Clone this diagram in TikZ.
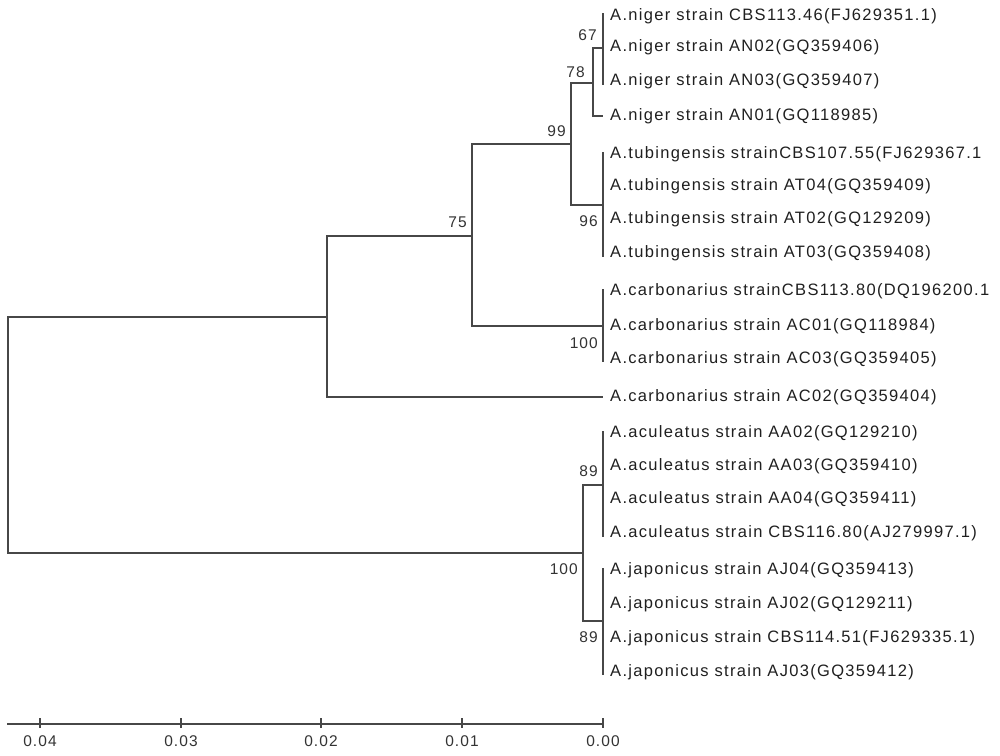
\documentclass[tikz,border=0pt]{standalone}
\usepackage{fontspec}
\setmainfont{Liberation Sans}
\newfontfamily\leaffont[LetterSpace=8]{Liberation Sans}
\newfontfamily\numfont[LetterSpace=7]{Liberation Sans}
\begin{document}
\begin{tikzpicture}[x=1pt,y=-1pt,
  br/.style={draw=black!72,line width=1.4pt},
  leaf/.style={anchor=west,inner sep=0pt,font=\leaffont\fontsize{16.5}{17}\selectfont,text=black!88},
  boot/.style={anchor=east,inner sep=0pt,font=\numfont\fontsize{15.5}{16}\selectfont,text=black!80},
  ticklab/.style={anchor=center,inner sep=0pt,font=\numfont\fontsize{15.5}{16}\selectfont,text=black!80}]
\useasboundingbox (0,0) rectangle (1000,755);
% leaf coordinates
\def\lx{603}
\foreach \i/\y in {1/16,2/47,3/81,4/116,5/154,6/186,7/219,8/253,9/291,10/326,11/359,12/397,13/433,14/466,15/499,16/533,17/570,18/604,19/638,20/672}{
  \coordinate (L\i) at (\lx,\y);
}
% labels
\node[leaf] (t1)  at (610,16)  {A.niger strain CBS113.46(FJ629351.1)};
\node[leaf] (t2)  at (610,47)  {A.niger strain AN02(GQ359406)};
\node[leaf] (t3)  at (610,81)  {A.niger strain AN03(GQ359407)};
\node[leaf] (t4)  at (610,116) {A.niger strain AN01(GQ118985)};
\node[leaf] (t5)  at (610,154) {A.tubingensis strainCBS107.55(FJ629367.1};
\node[leaf] (t6)  at (610,186) {A.tubingensis strain AT04(GQ359409)};
\node[leaf] (t7)  at (610,219) {A.tubingensis strain AT02(GQ129209)};
\node[leaf] (t8)  at (610,253) {A.tubingensis strain AT03(GQ359408)};
\node[leaf] (t9)  at (610,291) {A.carbonarius strainCBS113.80(DQ196200.1};
\node[leaf] (t10) at (610,326) {A.carbonarius strain AC01(GQ118984)};
\node[leaf] (t11) at (610,359) {A.carbonarius strain AC03(GQ359405)};
\node[leaf] (t12) at (610,397) {A.carbonarius strain AC02(GQ359404)};
\node[leaf] (t13) at (610,433) {A.aculeatus strain AA02(GQ129210)};
\node[leaf] (t14) at (610,466) {A.aculeatus strain AA03(GQ359410)};
\node[leaf] (t15) at (610,499) {A.aculeatus strain AA04(GQ359411)};
\node[leaf] (t16) at (610,533) {A.aculeatus strain CBS116.80(AJ279997.1)};
\node[leaf] (t17) at (610,570) {A.japonicus strain AJ04(GQ359413)};
\node[leaf] (t18) at (610,604) {A.japonicus strain AJ02(GQ129211)};
\node[leaf] (t19) at (610,638) {A.japonicus strain CBS114.51(FJ629335.1)};
\node[leaf] (t20) at (610,672) {A.japonicus strain AJ03(GQ359412)};
% internal nodes
\coordinate (n67) at (603,48);
\coordinate (n78) at (593,83);
\coordinate (n96) at (603,205);
\coordinate (n99) at (571,144);
\coordinate (n100c) at (603,326);
\coordinate (n75) at (472,236);
\coordinate (nAC) at (327,317);
\coordinate (n89a) at (603,485);
\coordinate (n89j) at (603,621);
\coordinate (n100) at (583,553);
\coordinate (root) at (8,436);
% branches
\draw[br] (603,13) -- (603,85);
\draw[br] (n67) -| (n78) |- (L4);
\draw[br] (n78) -| (n99) |- (n96);
\draw[br] (603,152) -- (603,257);
\draw[br] (n99) -| (n75) |- (n100c);
\draw[br] (603,289) -- (603,362);
\draw[br] (n75) -| (nAC) |- (L12);
\draw[br] (nAC) -| (root) |- (n100);
\draw[br] (603,431) -- (603,537);
\draw[br] (n89a) -| (n100) |- (n89j);
\draw[br] (603,568) -- (603,675);
% bootstrap values
\node[boot] (b67) at (597,35) {67};
\node[boot] (b78) at (585,72) {78};
\node[boot] (b99) at (566,131) {99};
\node[boot] (b75) at (467,222) {75};
\node[boot] (b96) at (598,221) {96};
\node[boot] (b100c) at (598,343) {100};
\node[boot] (b89a) at (598,471) {89};
\node[boot] (b100) at (578,569) {100};
\node[boot] (b89j) at (598,637) {89};
% scale axis
\coordinate (ax0) at (7,724);
\coordinate (ax1) at (604,724);
\draw[br,line width=1.2pt] (ax0) -- (ax1);
\foreach \xx/\lab/\nm in {40/0.04/s4,181/0.03/s3,321/0.02/s2,462/0.01/s1,603/0.00/s0}{
  \draw[br,line width=1.2pt] (\xx,718) -- (\xx,728);
  \node[ticklab] (\nm) at (\xx,741) {\lab};
}
\end{tikzpicture}
\end{document}
